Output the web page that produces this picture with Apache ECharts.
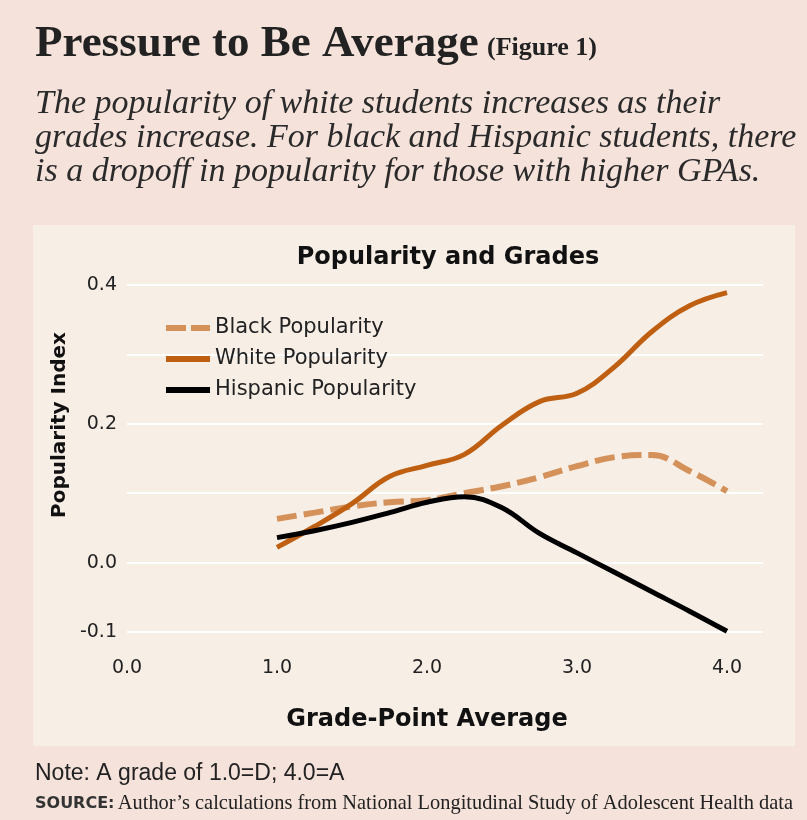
<!DOCTYPE html>
<html><head><meta charset="utf-8">
<script src="https://cdn.jsdelivr.net/npm/echarts@6/dist/echarts.min.js"></script>
<style>html,body{margin:0;padding:0;background:#f5e2da}#c{width:807px;height:820px}</style>
</head><body><div id="c"></div>
<script>
// ---- data ----
const gpa = [1.0, 1.25, 1.5, 1.75, 2.0, 2.25, 2.5, 2.75, 3.0, 3.25, 3.5, 3.75, 4.0];
const blackPop = [0.063, 0.072, 0.081, 0.087, 0.090, 0.100, 0.110, 0.123, 0.139, 0.152, 0.155, 0.132, 0.103];
const whitePop = [0.022, 0.052, 0.085, 0.124, 0.140, 0.156, 0.198, 0.232, 0.244, 0.282, 0.333, 0.370, 0.389];
const hispanicPop = [0.036, 0.046, 0.058, 0.072, 0.087, 0.095, 0.079, 0.042, 0.014, -0.014, -0.042, -0.070, -0.099];
const seriesNames = ['Black Popularity', 'White Popularity', 'Hispanic Popularity'];
const xTickLabels = {0: '0.0', 1: '1.0', 2: '2.0', 3: '3.0', 4: '4.0'};
const yTickLabels = {4: '0.4', 2: '0.2', 0: '0.0', '-1': '-0.1'};

const pairs = (xs, ys) => xs.map((x, i) => [x, ys[i]]);
const SANS = '"DejaVu Sans", Verdana, sans-serif';
const SOLID_ICON = 'path://M0,0h44v6h-44z';
const DASH_ICON = 'path://M0,0h20v6h-20z M25,0h19v6h-19z';

const chart = echarts.init(document.getElementById('c'), null, {renderer: 'canvas'});
chart.setOption({
  backgroundColor: '#f5e2da',
  animation: false,
  graphic: {elements: [
    {type: 'rect', z: -10, shape: {x: 33, y: 225, width: 762, height: 521}, style: {fill: '#f7eee6'}},
    {type: 'text', style: {text: 'Pressure to Be Average', x: 35, y: 44, verticalAlign: 'middle',
      font: 'bold 45px "Liberation Serif", serif', fill: '#222'}},
    {type: 'text', style: {text: '(Figure 1)', x: 487, y: 48, verticalAlign: 'middle',
      font: 'bold 26px "Liberation Serif", serif', fill: '#222'}},
    {type: 'text', style: {text: 'The popularity of white students increases as their', x: 35, y: 104, verticalAlign: 'middle',
      font: 'italic 34px "Liberation Serif", serif', fill: '#2a2a2a'}},
    {type: 'text', style: {text: 'grades increase. For black and Hispanic students, there', x: 35, y: 138, verticalAlign: 'middle',
      font: 'italic 34px "Liberation Serif", serif', fill: '#2a2a2a'}},
    {type: 'text', style: {text: 'is a dropoff in popularity for those with higher GPAs.', x: 35, y: 172, verticalAlign: 'middle',
      font: 'italic 34px "Liberation Serif", serif', fill: '#2a2a2a'}},
    {type: 'text', style: {text: 'Popularity Index', x: 60, y: 425, align: 'center', verticalAlign: 'middle',
      font: 'bold 20px ' + SANS, fill: '#111'}, rotation: Math.PI / 2, x: 0, y: 0, originX: 60, originY: 425},
    {type: 'text', style: {text: 'Grade-Point Average', x: 427, y: 720, align: 'center', verticalAlign: 'middle',
      font: 'bold 24px ' + SANS, fill: '#111'}},
    {type: 'text', style: {text: 'Note: A grade of 1.0=D; 4.0=A', x: 35, y: 774, verticalAlign: 'middle',
      font: '23px "Liberation Sans", sans-serif', fill: '#222'}},
    {type: 'text', style: {
      text: '{a|SOURCE:} {b|Author\u2019s calculations from National Longitudinal Study of Adolescent Health data}',
      x: 35, y: 804, verticalAlign: 'middle',
      rich: {
        a: {fontFamily: SANS, fontWeight: 'bold', fontSize: 16, fill: '#333', color: '#333'},
        b: {fontFamily: '"Liberation Serif", serif', fontSize: 20.4, fill: '#222', color: '#222'}
      }}}
  ]},
  title: {text: 'Popularity and Grades', left: 443, top: 241, textAlign: 'center',
    textStyle: {fontFamily: SANS, fontWeight: 'bold', fontSize: 24, color: '#111'}},
  legend: {orient: 'vertical', left: 161, top: 312, itemWidth: 44, itemHeight: 6, itemGap: 9,
    data: [
      {name: seriesNames[0], icon: DASH_ICON},
      {name: seriesNames[1], icon: SOLID_ICON},
      {name: seriesNames[2], icon: SOLID_ICON}
    ],
    textStyle: {fontFamily: SANS, fontSize: 21, color: '#222', lineHeight: 22}},
  grid: {left: 127, right: 44, top: 285, bottom: 188, containLabel: false},
  xAxis: {type: 'value', min: 0, max: 4.24, interval: 1,
    axisLine: {show: false}, axisTick: {show: false}, splitLine: {show: false},
    axisLabel: {margin: 27, fontFamily: SANS, fontSize: 19, color: '#222',
      formatter: v => (xTickLabels[Math.round(v)] !== undefined && Math.abs(v - Math.round(v)) < 1e-6) ? xTickLabels[Math.round(v)] : ''}},
  yAxis: {type: 'value', min: -0.1, max: 0.4, interval: 0.1,
    axisLine: {show: false}, axisTick: {show: false},
    splitLine: {lineStyle: {color: '#ffffff', width: 2}},
    axisLabel: {margin: 10, fontFamily: SANS, fontSize: 19, color: '#222',
      formatter: v => { const k = Math.round(v * 10); return yTickLabels[k] || ''; }}},
  series: [
    {name: seriesNames[0], type: 'line', data: pairs(gpa, blackPop), smooth: 0.4, symbol: 'none',
      lineStyle: {color: '#d4915a', width: 6, type: [20, 7]}, itemStyle: {color: '#d4915a'}},
    {name: seriesNames[1], type: 'line', data: pairs(gpa, whitePop), smooth: 0.4, symbol: 'none',
      lineStyle: {color: '#bf5f12', width: 5}, itemStyle: {color: '#bf5f12'}},
    {name: seriesNames[2], type: 'line', data: pairs(gpa, hispanicPop), smooth: 0.4, symbol: 'none',
      lineStyle: {color: '#000000', width: 5}, itemStyle: {color: '#000000'}}
  ]
});
</script></body></html>
